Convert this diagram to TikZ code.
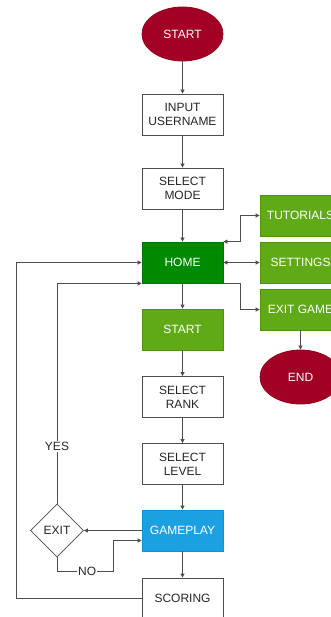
\documentclass[tikz,border=0pt]{standalone}
\usepackage{fontspec}
\setmainfont{Liberation Sans}
\usetikzlibrary{shapes.geometric,arrows.meta}
\definecolor{cred}{HTML}{A20025}
\definecolor{credb}{HTML}{6F0000}
\definecolor{cgreen}{HTML}{60A917}
\definecolor{cgreenb}{HTML}{2D7600}
\definecolor{chome}{HTML}{008A00}
\definecolor{chomeb}{HTML}{005700}
\definecolor{cblue}{HTML}{1BA1E2}
\definecolor{cblueb}{HTML}{006EAF}
\definecolor{cline}{HTML}{4D4D4D}
\tikzset{
  base/.style={font=\fontsize{12}{14}\selectfont, align=center, inner sep=0pt, line width=0.8pt},
  plainbox/.style={base, rectangle, draw=cline, fill=white, text=black!85, minimum width=81pt, minimum height=41pt},
  greenbox/.style={base, rectangle, draw=cgreenb!40!cgreen, fill=cgreen, text=white, minimum width=81pt, minimum height=41pt},
  homebox/.style={base, rectangle, draw=chomeb!40!chome, fill=chome, text=white, minimum width=81pt, minimum height=41pt},
  bluebox/.style={base, rectangle, draw=cblueb!30!cblue, fill=cblue, text=white, minimum width=81pt, minimum height=41pt},
  term/.style={base, ellipse, draw=credb!30!cred, fill=cred, text=white, minimum width=81pt, minimum height=54pt},
  decision/.style={base, diamond, draw=cline, fill=white, text=black!85, minimum width=53pt, minimum height=53pt, aspect=1},
  conn/.style={draw=cline, line width=0.8pt, -{Triangle[length=4pt,width=4pt]}},
  bconn/.style={draw=cline, line width=0.8pt, {Triangle[length=4pt,width=4pt]}-{Triangle[length=4pt,width=4pt]}},
  lbl/.style={font=\fontsize{12}{14}\selectfont, fill=white, inner sep=1pt, text=black!85},
}
\begin{document}
\begin{tikzpicture}[x=1pt,y=-1pt]
\useasboundingbox (0,0) rectangle (331,617);
\clip (0,0) rectangle (331,617);
\fill[white] (0,0) rectangle (331,617);

\node[term] (start) at (182.5,34) {START};
\node[plainbox] (input) at (182.5,114.5) {INPUT\\USERNAME};
\node[plainbox] (mode) at (182.5,188.5) {SELECT\\MODE};
\node[homebox] (home) at (182.5,262.5) {HOME};
\node[greenbox] (start2) at (182.5,329.5) {START};
\node[plainbox] (rank) at (182.5,397) {SELECT\\RANK};
\node[plainbox] (level) at (182.5,464) {SELECT\\LEVEL};
\node[bluebox] (game) at (182.5,530.5) {GAMEPLAY};
\node[plainbox] (scoring) at (182.5,598.5) {SCORING};

\node[greenbox] (tut) at (300.5,215.5) {TUTORIALS};
\node[greenbox] (sett) at (300.5,262.5) {SETTINGS};
\node[greenbox] (exitg) at (300.5,309.5) {EXIT GAME};
\node[term] (endn) at (300.5,377) {END};

\node[decision] (exitd) at (57,530.5) {EXIT};

\draw[conn] (start) -- (input);
\draw[conn] (input) -- (mode);
\draw[conn] (mode) -- (home);
\draw[conn] (home) -- (start2);
\draw[conn] (start2) -- (rank);
\draw[conn] (rank) -- (level);
\draw[conn] (level) -- (game);
\draw[conn] (game) -- (scoring);

\draw[bconn] (home.north east) -- ++(16.5,0) |- (tut.west);
\draw[bconn] (home.east) -- (sett.west);
\draw[conn] (home.south east) -- ++(16.5,0) |- (exitg.west);
\draw[conn] (exitg) -- (endn);

\draw[conn] (game.west) -- (exitd.east);
\draw[conn] (exitd.south) -- ++(0,14) -- node[lbl, pos=0.54] {NO} ++(56,0) |- ([yshift=-10pt]game.west);
\draw[conn] (exitd.north) -- node[lbl, pos=0.26] {YES} (exitd.north |- home.south west) -- (home.south west);
\draw[conn] (scoring.west) -- ++(-125.5,0) |- (home.west);
\end{tikzpicture}
\end{document}
